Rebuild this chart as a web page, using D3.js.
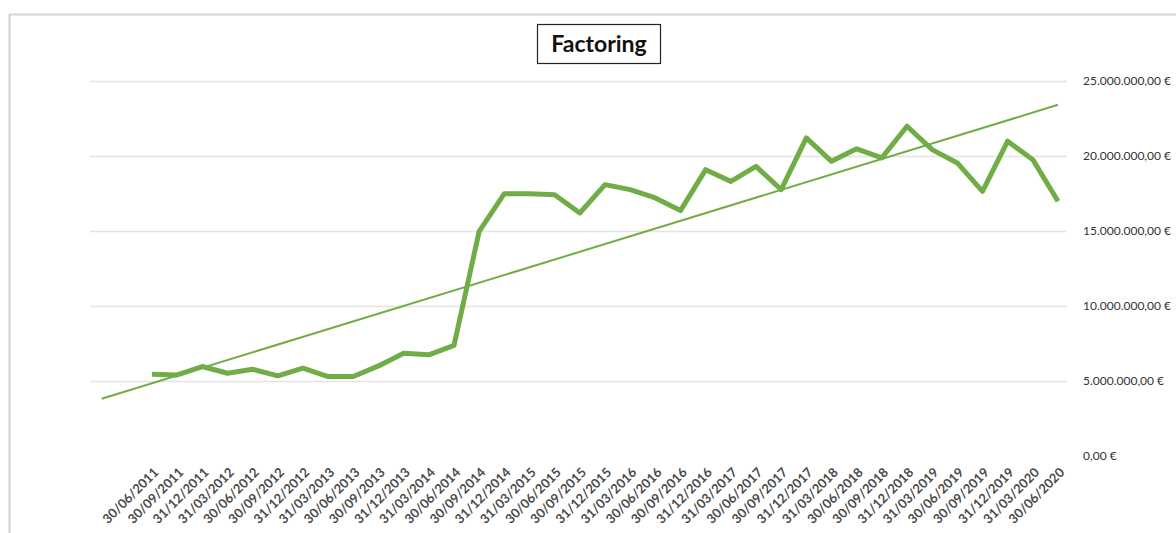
<!DOCTYPE html>
<html>
<head>
<meta charset="utf-8">
<script src="https://cdn.jsdelivr.net/npm/d3@7"></script>
<style>
  html, body { margin: 0; padding: 0; background: #fff; }
  svg { display: block; }
</style>
</head>
<body>
<svg id="chart" width="1176" height="533"></svg>
<script>
// Quarter-end reporting dates
const categories = [
  "30/06/2011","30/09/2011","31/12/2011","31/03/2012","30/06/2012","30/09/2012",
  "31/12/2012","31/03/2013","30/06/2013","30/09/2013","31/12/2013","31/03/2014",
  "30/06/2014","30/09/2014","31/12/2014","31/03/2015","30/06/2015","30/09/2015",
  "31/12/2015","31/03/2016","30/06/2016","30/09/2016","31/12/2016","31/03/2017",
  "30/06/2017","30/09/2017","31/12/2017","31/03/2018","30/06/2018","30/09/2018",
  "31/12/2018","31/03/2019","30/06/2019","30/09/2019","31/12/2019","31/03/2020",
  "30/06/2020"
];

// Factoring volume (EUR) per quarter
const factoring = [
  5430000, 5380000, 5940000, 5490000, 5760000, 5310000,
  5830000, 5270000, 5270000, 5980000, 6830000, 6720000,
  7350000, 14960000, 17480000, 17480000, 17410000, 16190000,
  18080000, 17750000, 17190000, 16350000, 19080000, 18300000,
  19300000, 17750000, 21200000, 19640000, 20470000, 19870000,
  21980000, 20420000, 19530000, 17630000, 20980000, 19750000,
  16970000
];

// Value axis ticks
const yTicks = [0, 5000000, 10000000, 15000000, 20000000, 25000000];

// Linear trendline, extended two periods backwards
const trendBackward = 2;

const svg = d3.select("#chart");
const green = "#70AD47";

// Chart area frame (top and left edges)
svg.append("line").attr("x1", 9).attr("y1", 14.5).attr("x2", 1176).attr("y2", 14.5)
  .attr("stroke", "#d6d6d6").attr("stroke-width", 2);
svg.append("line").attr("x1", 9.5).attr("y1", 14).attr("x2", 9.5).attr("y2", 533)
  .attr("stroke", "#cfcfcf").attr("stroke-width", 2);

const plotLeft = 90, plotRight = 1067;

const x = d3.scaleLinear().domain([0, categories.length - 1]).range([152, 1058]);
const y = d3.scaleLinear().domain([0, 25000000]).range([455.5, 81]);

const fmt = v => {
  const s = d3.format(",.2f")(v); // 25,000,000.00
  return s.replace(/,/g, "#").replace(".", ",").replace(/#/g, ".") + " €";
};

// Horizontal gridlines
svg.append("g").selectAll("line")
  .data(yTicks.filter(d => d > 0))
  .join("line")
  .attr("x1", plotLeft).attr("x2", plotRight)
  .attr("y1", d => Math.round(y(d)) + 0.5).attr("y2", d => Math.round(y(d)) + 0.5)
  .attr("stroke", "#e3e3e3").attr("stroke-width", 1.5);

// Value axis on the right
const yAxis = d3.axisRight(y).tickValues(yTicks).tickFormat(fmt).tickSize(0).tickPadding(0);
const gy = svg.append("g").attr("transform", "translate(1083,0)").call(yAxis);
gy.select(".domain").remove();
gy.selectAll("text")
  .attr("font-family", "Lato, 'Open Sans', sans-serif")
  .attr("font-size", "12px")
  .attr("fill", "#333");

// Category axis labels, rotated
const xAxis = d3.axisBottom(x).tickValues(d3.range(categories.length))
  .tickFormat(i => categories[i]).tickSize(0).tickPadding(0);
const gx = svg.append("g").call(xAxis);
gx.select(".domain").remove();
gx.selectAll(".tick")
  .attr("transform", i => `translate(${x(i) + 4},470)`);
gx.selectAll("text")
  .attr("font-family", "Lato, 'Open Sans', sans-serif")
  .attr("font-size", "13px")
  .attr("font-weight", "700")
  .attr("fill", "#4a4a4a")
  .attr("text-anchor", "end")
  .attr("y", 0).attr("dy", "0.35em")
  .attr("transform", "rotate(-45)");

// Least-squares trendline over the category index
const n = factoring.length;
const xs = d3.range(n);
const mx = d3.mean(xs), my = d3.mean(factoring);
const slope = d3.sum(xs, i => (i - mx) * (factoring[i] - my)) / d3.sum(xs, i => (i - mx) ** 2);
const intercept = my - slope * mx;
const t0 = -trendBackward, t1 = n - 1;

svg.append("line")
  .attr("x1", x(t0)).attr("y1", y(intercept + slope * t0))
  .attr("x2", x(t1)).attr("y2", y(intercept + slope * t1))
  .attr("stroke", green).attr("stroke-width", 2);

// Factoring series
const line = d3.line().x((d, i) => x(i)).y(d => y(d));
svg.append("path")
  .datum(factoring)
  .attr("d", line)
  .attr("fill", "none")
  .attr("stroke", green)
  .attr("stroke-width", 5)
  .attr("stroke-linejoin", "round");

// Title in a framed box
const title = svg.append("g");
title.append("rect")
  .attr("x", 537.5).attr("y", 24.5).attr("width", 123).attr("height", 39)
  .attr("fill", "#fff").attr("stroke", "#222").attr("stroke-width", 1.2);
title.append("text")
  .attr("x", 599).attr("y", 44).attr("dy", "0.35em")
  .attr("text-anchor", "middle")
  .attr("font-family", "Lato, 'Open Sans', sans-serif")
  .attr("font-weight", "700")
  .attr("font-size", "23px")
  .attr("fill", "#111")
  .text("Factoring");
</script>
</body>
</html>
